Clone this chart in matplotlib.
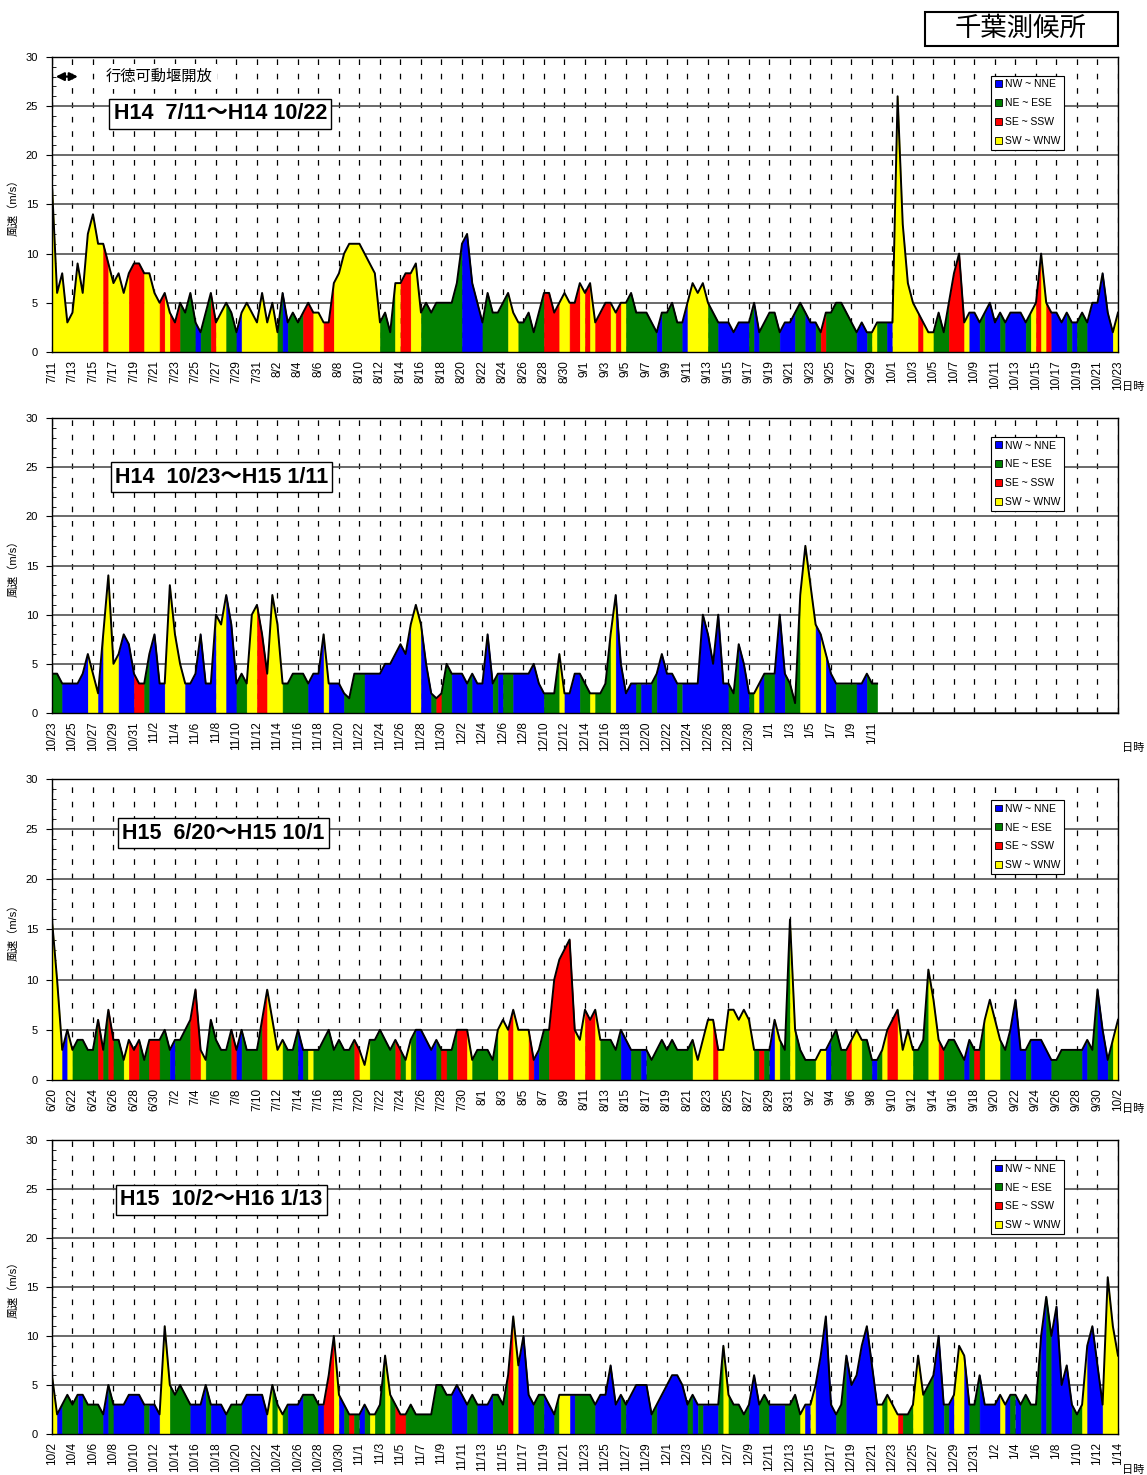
import datetime as dt
import numpy as np
import matplotlib
matplotlib.use("Agg")
import matplotlib.pyplot as plt
from matplotlib.patches import Patch, Rectangle
from matplotlib.ticker import MultipleLocator

plt.rcParams['font.family'] = ['Liberation Sans', 'Noto Sans CJK JP', 'DejaVu Sans']

# direction classes: B=NW~NNE, G=NE~ESE, R=SE~SSW, Y=SW~WNW
COLORS = {'B': '#0000ff', 'G': '#008000', 'R': '#ff0000', 'Y': '#ffff00'}
legend_labels = ['NW ~ NNE', 'NE ~ ESE', 'SE ~ SSW', 'SW ~ WNW']

# wind speed (m/s), one value every 12 hours
p1_start = dt.date(2002, 7, 11)
p1_title = 'H14  7/11～H14 10/22'
p1_speed = [
    17, 6, 8, 3, 4, 9, 6, 12, 14, 11, 11, 9, 7, 8, 6, 8, 9, 9, 8, 8,
    6, 5, 6, 4, 3, 5, 4, 6, 3, 2, 4, 6, 3, 4, 5, 4, 2, 4, 5, 4,
    3, 6, 3, 5, 2, 6, 3, 4, 3, 4, 5, 4, 4, 3, 3, 7, 8, 10, 11, 11,
    11, 10, 9, 8, 3, 4, 2, 7, 7, 8, 8, 9, 4, 5, 4, 5, 5, 5, 5, 7,
    11, 12, 7, 5, 3, 6, 4, 4, 5, 6, 4, 3, 3, 4, 2, 4, 6, 6, 4, 5,
    6, 5, 5, 7, 6, 7, 3, 4, 5, 5, 4, 5, 5, 6, 4, 4, 4, 3, 2, 4,
    4, 5, 3, 3, 5, 7, 6, 7, 5, 4, 3, 3, 3, 2, 3, 3, 3, 5, 2, 3,
    4, 4, 2, 3, 3, 4, 5, 4, 3, 3, 2, 4, 4, 5, 5, 4, 3, 2, 3, 2,
    2, 3, 3, 3, 3, 26, 13, 7, 5, 4, 3, 2, 2, 4, 2, 5, 8, 10, 3, 4,
    4, 3, 4, 5, 3, 4, 3, 4, 4, 4, 3, 4, 5, 10, 5, 4, 4, 3, 4, 3,
    3, 4, 3, 5, 5, 8, 4, 2, 4]
p1_dir = """
YYYY YYYY YYRY YYYR RRYY  YRYR RGGG BGGR YYGG BYYY
YYYY GBGG GRRY YRRY YYYY  YYYY GGGY RRYY GGGG GGGG
BBBB GGGG GYYG GGGG RRRY  YRRY RYRR RYRY GGGG GGBG
GGGB YYYY GGBB BBBB GBGG  GGBB BGGB BGRG GGGG GBBG
YGGB YYYY YRYY GGGR RRYB  BGBB BGBB BBGY RYRB BBGB
GGBB BBBY G"""

p2_start = dt.date(2002, 10, 23)
p2_title = 'H14  10/23～H15 1/11'
p2_speed = [
    4, 4, 3, 3, 3, 3, 4, 6, 4, 2, 8, 14, 5, 6, 8, 7, 4, 3, 3, 6,
    8, 3, 3, 13, 8, 5, 3, 3, 4, 8, 3, 3, 10, 9, 12, 9, 3, 4, 3, 10,
    11, 8, 4, 12, 9, 3, 3, 4, 4, 4, 3, 4, 4, 8, 3, 3, 3, 2, 1.5, 4,
    4, 4, 4, 4, 4, 5, 5, 6, 7, 6, 9, 11, 9, 5, 2, 1.5, 2, 5, 4, 4,
    4, 3, 4, 3, 3, 8, 3, 4, 4, 4, 4, 4, 4, 4, 5, 3, 2, 2, 2, 6,
    2, 2, 4, 4, 3, 2, 2, 2, 3, 8, 12, 5, 2, 3, 3, 3, 3, 3, 4, 6,
    4, 4, 3, 3, 3, 3, 3, 10, 8, 5, 10, 3, 3, 2, 7, 5, 2, 2, 3, 4,
    4, 4, 10, 4, 3, 1, 12, 17, 13, 9, 8, 6, 4, 3, 3, 3, 3, 3, 3, 4,
    3, 3]
p2_dir = """
GGBB BBBY YBYY YBBB RRGB  BBYY YYBB BBBB YYBB GGYY
RRYY YGGG GGBB BYBB BGGG  GBBB BBBB BBYY BBGR GGBB
BGBB BBGB GGBB BBBB GGGY  BBBG GYGG GYBB BBGB BGBB
BBGB BBBB BBBB GGBB GYBG  GBBG GGYY YBYB BGGG GBBG
GG"""
p2_last_label = 80

p3_start = dt.date(2003, 6, 20)
p3_title = 'H15  6/20～H15 10/1'
p3_speed = [
    16, 10, 3, 5, 3, 4, 4, 3, 3, 6, 3, 7, 4, 4, 2, 4, 3, 4, 2, 4,
    4, 4, 5, 3, 4, 4, 5, 6, 9, 3, 2, 6, 4, 3, 3, 5, 3, 5, 3, 3,
    3, 6, 9, 6, 3, 4, 3, 3, 5, 3, 3, 3, 3, 4, 5, 3, 4, 3, 3, 4,
    3, 1.5, 4, 4, 5, 4, 3, 4, 3, 2, 4, 5, 5, 4, 3, 4, 3, 3, 3, 5,
    5, 5, 2, 3, 3, 3, 2, 5, 6, 5, 7, 5, 5, 5, 2, 3, 5, 5, 10, 12,
    13, 14, 5, 4, 7, 6, 7, 4, 4, 4, 3, 5, 4, 3, 3, 3, 3, 2, 3, 4,
    3, 4, 3, 3, 3, 4, 2, 4, 6, 6, 3, 3, 7, 7, 6, 7, 6, 3, 3, 3,
    3, 6, 4, 3, 16, 5, 3, 2, 2, 2, 3, 3, 4, 5, 3, 3, 4, 5, 4, 4,
    2, 2, 3, 5, 6, 7, 3, 5, 3, 3, 4, 11, 8, 4, 3, 4, 4, 3, 2, 4,
    3, 3, 6, 8, 6, 4, 3, 5, 8, 3, 3, 4, 4, 4, 3, 2, 2, 3, 3, 3,
    3, 3, 4, 3, 9, 5, 2, 4, 6]
p3_dir = """
YYBY GGGG GRGR GGYR RGGR  RGGB GGGR RYGG GGGR BGGG
GRYY YGGG BGYG GGGG GGGR  YYGG GGGR GYGB BBBG RGGR
RYGG GGGY YRYY YRBG GRRR  RRYY RRYG GGGB BGGB GGGG
GGGG GYYY YRYY YYYY YGRG  BYGG YGGG GYYB GGGR YYGG
BGYR RYYY GGGY YRGG GGBG  RGYY YGGB BBGB BBBG GGGG
GBGG BBGY Y"""

p4_start = dt.date(2003, 10, 2)
p4_title = 'H15  10/2～H16 1/13'
p4_speed = [
    6, 2, 3, 4, 3, 4, 4, 3, 3, 3, 2, 5, 3, 3, 3, 4, 4, 4, 3, 3,
    3, 2, 11, 5, 4, 5, 4, 3, 3, 3, 5, 3, 3, 3, 2, 3, 3, 3, 4, 4,
    4, 4, 2, 5, 3, 2, 3, 3, 3, 4, 4, 4, 3, 3, 6, 10, 4, 3, 2, 2,
    2, 3, 2, 2, 3, 8, 4, 3, 2, 2, 3, 2, 2, 2, 2, 5, 5, 4, 4, 5,
    4, 3, 4, 3, 3, 3, 4, 4, 3, 6, 12, 7, 10, 4, 3, 4, 4, 3, 2, 4,
    4, 4, 4, 4, 4, 4, 3, 4, 4, 7, 3, 4, 3, 4, 5, 5, 5, 2, 3, 4,
    5, 6, 6, 5, 3, 4, 3, 3, 3, 3, 3, 9, 4, 3, 3, 2, 3, 6, 3, 4,
    3, 3, 3, 3, 3, 4, 2, 3, 3, 5, 8, 12, 3, 2, 3, 8, 5, 6, 9, 11,
    7, 3, 3, 4, 3, 2, 2, 2, 3, 8, 4, 5, 6, 10, 3, 3, 4, 9, 8, 3,
    3, 6, 3, 3, 3, 4, 3, 4, 4, 3, 4, 3, 3, 10, 14, 10, 13, 5, 7, 3,
    2, 3, 9, 11, 7, 3, 16, 11, 8]
p4_dir = """
YBGG GBGG GGBG BBBB BBGB  BYYG GGGB BBGB BBGG GBBB
BBYG YGBB BGGG BRRY BGRG  BGYG GYGR RGGG GGGG GGBB
BGGB BBGG GRYB BBGG BBGY  YBGG GGBB BBBG BBBB BGBB
BBBB GBGB BBGY GGGG BBGG  BBBG GGYB YBBB BGGB BBBB
BYGY YRGG YYGG BBGB YYBG  GBBB BYBG BGGG GBGB BBBG
GYBB BYYY Y"""

panels = [
    (p1_speed, p1_dir, p1_start, p1_title, 104, [0.7614, 0.2000], (0.158, 0.807), 0.936, -0.119),
    (p2_speed, p2_dir, p2_start, p2_title, p2_last_label, [0.5166, 0.2000], (0.159, 0.800), 0.936, -0.119),
    (p3_speed, p3_dir, p3_start, p3_title, 104, [0.2678, 0.2041], (0.161, 0.820), 0.930, -0.096),
    (p4_speed, p4_dir, p4_start, p4_title, 104, [0.0278, 0.1993], (0.159, 0.796), 0.932, -0.122),
]


def fill_runs(ax, x, y, dirs):
    n = len(y)
    i0 = 0
    for i in range(1, n):
        if i == n - 1 or dirs[i] != dirs[i0]:
            c = COLORS[dirs[i0]]
            ax.fill_between(x[i0:i + 1], y[i0:i + 1], color=c, lw=0.4, zorder=2)
            i0 = i


fig = plt.figure(figsize=(11.47, 14.75), dpi=100)

for k, (speed, dirs, start, title, last_lab, (bot, hgt), tpos, leg_top, ntime_y) in enumerate(panels):
    dirs = "".join(dirs.split())
    assert len(dirs) == len(speed), (k, len(dirs), len(speed))
    ax = fig.add_axes([0.0453, bot, 0.9294, hgt])
    x = np.arange(len(speed)) * 0.5
    y = np.array(speed, dtype=float)
    fill_runs(ax, x, y, dirs)
    ax.plot(x, y, color='black', lw=1.4, zorder=3)

    ax.set_xlim(0, 104)
    ax.set_ylim(0, 30)
    ax.set_yticks(np.arange(0, 31, 5))
    ax.yaxis.set_minor_locator(MultipleLocator(1))
    days = np.arange(0, 105, 2)
    ax.set_xticks(days)
    labs = []
    for d in days:
        if d <= last_lab:
            t = start + dt.timedelta(days=int(d))
            labs.append(f"{t.month}/{t.day}")
        else:
            labs.append("")
    ax.set_xticklabels(labs, rotation=90, fontsize=8.5)
    ax.tick_params(axis='x', direction='in', length=4, pad=6)
    ax.tick_params(axis='y', which='major', direction='out', length=4, labelsize=8, pad=6)
    ax.tick_params(axis='y', which='minor', direction='in', length=3)

    ax.set_axisbelow(True)
    ax.grid(axis='y', color='#505050', lw=1.2, ls='-')
    ax.grid(axis='x', color='black', lw=0.9, ls=(0, (4.5, 7)))
    for s in ax.spines.values():
        s.set_linewidth(1.0)
        s.set_zorder(5)

    ax.set_ylabel('風速（m/s）', fontsize=8)
    ax.yaxis.set_label_coords(-0.031, 0.5)
    ax.text(1.014, ntime_y, '日時', transform=ax.transAxes, fontsize=8,
            ha='center', va='center')

    ax.text(tpos[0], tpos[1], title, transform=ax.transAxes, fontsize=15.5,
            fontweight='bold', ha='center', va='center', zorder=6,
            bbox=dict(boxstyle='square,pad=0.2', fc='white', ec='black', lw=1.0))

    handles = [Patch(facecolor=COLORS[c], edgecolor='black', lw=0.6) for c in 'BGRY']
    leg = ax.legend(handles, legend_labels, loc='upper left',
                    bbox_to_anchor=(0.881, leg_top), fontsize=7.5, frameon=True,
                    fancybox=False, edgecolor='black', framealpha=1,
                    handlelength=0.65, handleheight=0.65, handletextpad=0.3,
                    borderpad=0.35, labelspacing=0.85, borderaxespad=0)
    leg.get_frame().set_linewidth(0.8)
    leg.set_zorder(6)

    if k == 0:
        ax.annotate('', xy=(0.1, 28), xytext=(2.8, 28),
                    arrowprops=dict(arrowstyle='<|-|>', color='black', lw=1.6,
                                    mutation_scale=12), zorder=6)
        ax.text(5.2, 28, '行徳可動堰開放', fontsize=11, ha='left', va='center', zorder=6,
                bbox=dict(boxstyle='square,pad=0.35', fc='white', ec='none'))

# station title box
fig.patches.append(Rectangle((0.8065, 0.9688), 0.1682, 0.0231, transform=fig.transFigure,
                             fc='white', ec='black', lw=1.5))
fig.text(0.890, 0.9803, '千葉測候所', fontsize=19, ha='center', va='center')

fig.savefig('out.png', dpi=100)
